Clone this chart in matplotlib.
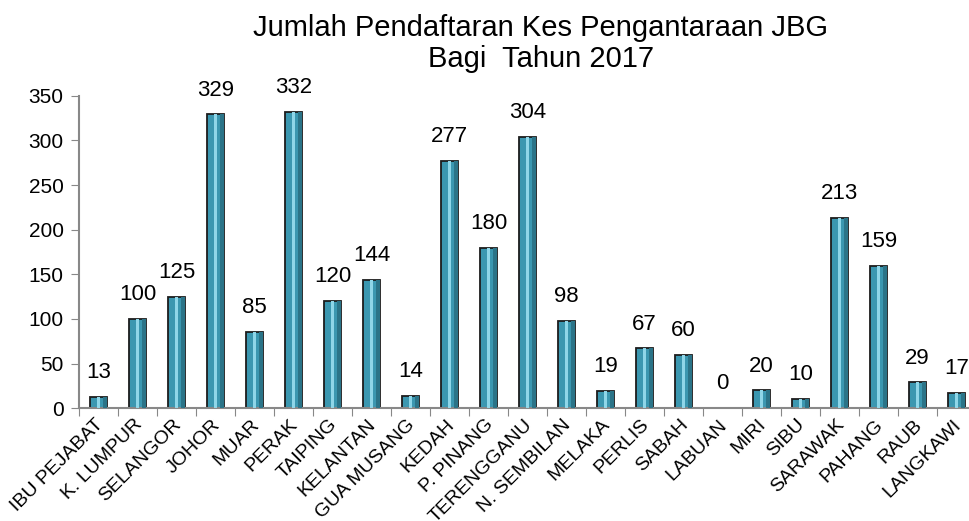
import matplotlib.pyplot as plt

plt.rcParams['font.family'] = ['Liberation Sans', 'DejaVu Sans']

# data
negeri = ['IBU PEJABAT', 'K. LUMPUR', 'SELANGOR', 'JOHOR', 'MUAR', 'PERAK',
          'TAIPING', 'KELANTAN', 'GUA MUSANG', 'KEDAH', 'P. PINANG',
          'TERENGGANU', 'N. SEMBILAN', 'MELAKA', 'PERLIS', 'SABAH', 'LABUAN',
          'MIRI', 'SIBU', 'SARAWAK', 'PAHANG', 'RAUB', 'LANGKAWI']
kes = [13, 100, 125, 329, 85, 332, 120, 144, 14, 277, 180, 304, 98, 19, 67,
       60, 0, 20, 10, 213, 159, 29, 17]

fig = plt.figure(figsize=(9.69, 5.21), dpi=100)
# axis runs a little past the right edge, like the original image
ax = fig.add_axes([79 / 969, 1 - 408.3 / 521, 897 / 969, 312.6 / 521])

x = list(range(len(negeri)))
ax.bar(x, kes, width=0.46, color='#3b97b0', edgecolor='#1c1c1c', linewidth=1.3, zorder=2)
# darker sides + light stripe to fake the bevel look
ax.bar([i + 0.17 for i in x], kes, width=0.09, color='#2b7488', linewidth=0, zorder=3)
ax.bar(x, kes, width=0.08, color='#8fd6e8', linewidth=0, zorder=3)

for i, v in zip(x, kes):
    ax.annotate(str(v), (i, v), xytext=(0, 10), textcoords='offset points',
                ha='center', va='bottom', fontsize=16)

ax.set_xlim(-0.5, len(negeri) - 0.5)
ax.set_ylim(0, 350)
ax.set_yticks(range(0, 351, 50))
# category boundaries get the tick marks
ax.set_xticks([i - 0.5 for i in x] + [len(negeri) - 0.5])
ax.set_xticklabels([])
# labels sit on minor ticks so the text ends just beside the bar
ax.set_xticks([i + 0.05 for i in x], minor=True)
ax.set_xticklabels(negeri, minor=True, rotation=45, ha='right', va='center',
                   rotation_mode='anchor', fontsize=14)
ax.tick_params(axis='x', which='minor', length=0, pad=10)
ax.tick_params(axis='x', which='major', length=6, color='#888888', direction='out')
ax.tick_params(axis='y', length=6, color='#888888', labelsize=15, pad=5)

for s in ['top', 'right']:
    ax.spines[s].set_visible(False)
for s in ['left', 'bottom']:
    ax.spines[s].set_color('#888888')
    ax.spines[s].set_linewidth(1.5)

fig.text(0.558, 1 - 36 / 521, 'Jumlah Pendaftaran Kes Pengantaraan JBG',
         ha='center', va='baseline', fontsize=21)
fig.text(0.558, 1 - 67 / 521, 'Bagi  Tahun 2017',
         ha='center', va='baseline', fontsize=21)

fig.savefig('out.png', dpi=100)
